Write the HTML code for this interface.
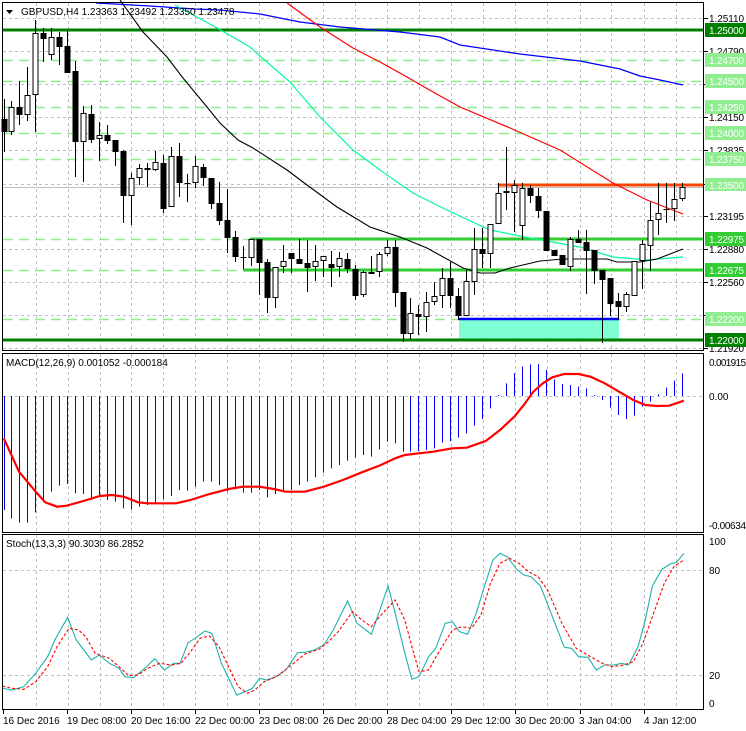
<!DOCTYPE html>
<html><head><meta charset="utf-8"><style>
html,body{margin:0;padding:0;background:#fff;width:746px;height:731px;overflow:hidden}
svg{display:block}
text{font-family:"Liberation Sans",sans-serif;font-size:10px}
</style></head><body>
<svg id="s" width="746" height="731" xmlns="http://www.w3.org/2000/svg">
<rect width="746" height="731" fill="#fff"/>
<g id="grid"></g>
<g id="lv"></g>
<g id="ma"></g>
<g id="cd"></g>
<g id="ind"></g>
<g fill="none" stroke="#000" stroke-width="1">
<rect x="2.5" y="2.5" width="701" height="348"/>
<rect x="2.5" y="353.5" width="701" height="179"/>
<rect x="2.5" y="534.5" width="701" height="175"/>
</g>
<g fill="#000">
<text x="709" y="22" textLength="35">1.25110</text>
<text x="709" y="55" textLength="35">1.24790</text>
<text x="709" y="88" textLength="35">1.24470</text>
<text x="709" y="121" textLength="35">1.24150</text>
<text x="709" y="154" textLength="35">1.23835</text>
<text x="709" y="220" textLength="35">1.23195</text>
<text x="709" y="253" textLength="35">1.22880</text>
<text x="709" y="286" textLength="35">1.22560</text>
<text x="709" y="319" textLength="35">1.22240</text>
<text x="709" y="352" textLength="35">1.21920</text>
</g>
<g>
<rect x="705" y="23" width="41" height="14" fill="#008000"/><text x="709" y="34" fill="#fff" textLength="35">1.25000</text>
<rect x="705" y="53" width="41" height="14" fill="#90EE90"/><text x="709" y="64" fill="#fff" textLength="35">1.24700</text>
<rect x="705" y="74" width="41" height="14" fill="#90EE90"/><text x="709" y="85" fill="#fff" textLength="35">1.24500</text>
<rect x="705" y="100" width="41" height="14" fill="#90EE90"/><text x="709" y="111" fill="#fff" textLength="35">1.24250</text>
<rect x="705" y="126" width="41" height="14" fill="#90EE90"/><text x="709" y="137" fill="#fff" textLength="35">1.24000</text>
<rect x="705" y="152" width="41" height="14" fill="#90EE90"/><text x="709" y="163" fill="#fff" textLength="35">1.23750</text>
<rect x="705" y="188" width="41" height="3" fill="#000"/>
<rect x="705" y="178" width="41" height="13" fill="#90EE90"/><text x="709" y="189" fill="#fff" textLength="35">1.23500</text>
<rect x="705" y="232" width="41" height="14" fill="#32CD32"/><text x="709" y="243" fill="#fff" textLength="35">1.22975</text>
<rect x="705" y="263" width="41" height="14" fill="#32CD32"/><text x="709" y="274" fill="#fff" textLength="35">1.22675</text>
<rect x="705" y="312" width="41" height="14" fill="#90EE90"/><text x="709" y="323" fill="#fff" textLength="35">1.22200</text>
<rect x="705" y="333" width="41" height="14" fill="#008000"/><text x="709" y="344" fill="#fff" textLength="35">1.22000</text>
<text x="709" y="366" textLength="37">0.001915</text>
<text x="709" y="400">0.00</text>
<text x="709" y="529" textLength="37">-0.00634</text>
<text x="709" y="545">100</text>
<text x="709" y="574">80</text>
<text x="709" y="679">20</text>
<text x="709" y="707">0</text>
</g>
<text x="21" y="15" fill="#000" font-size="10.5">GBPUSD,H4  1.23363 1.23492 1.23350 1.23478</text>
<path d="M6 10 L13 10 L9.5 14 Z" fill="#000"/>
<text x="6" y="366" fill="#000">MACD(12,26,9) 0.001052 -0.000184</text>
<text x="6" y="547" fill="#000">Stoch(13,3,3) 90.3030 86.2852</text>
<g fill="#000">
<text x="3" y="724">16 Dec 2016</text>
<text x="67" y="724">19 Dec 08:00</text>
<text x="131" y="724">20 Dec 16:00</text>
<text x="195" y="724">22 Dec 00:00</text>
<text x="259" y="724">23 Dec 08:00</text>
<text x="323" y="724">26 Dec 20:00</text>
<text x="387" y="724">28 Dec 04:00</text>
<text x="451" y="724">29 Dec 12:00</text>
<text x="515" y="724">30 Dec 20:00</text>
<text x="579" y="724">3 Jan 04:00</text>
<text x="644" y="724">4 Jan 12:00</text>
</g>
</svg>
<script>
(function(){
var NS="http://www.w3.org/2000/svg";
function el(p,t,a){var e=document.createElementNS(NS,t);for(var k in a)e.setAttribute(k,a[k]);document.getElementById(p).appendChild(e);return e;}
function pl(p,pts,st,w,extra){var d=pts.map(function(q,i){return (i?"L":"M")+q[0].toFixed(1)+" "+q[1].toFixed(1)}).join(" ");var a={d:d,fill:"none",stroke:st,"stroke-width":w};for(var k in extra)a[k]=extra[k];el(p,"path",a);}
var gx=[36,68,100,131,163,195,227,259,291,323,355,387,419,451,483,515,547,580,611,644,676];
gx.forEach(function(x){
 [[3,350],[354,532],[535,709]].forEach(function(r){el("grid","line",{x1:x+.5,y1:r[0],x2:x+.5,y2:r[1],stroke:"#c0c0c0","stroke-dasharray":"3,3"});});
});
[3,67,131,195,259,323,387,451,515,580,644].forEach(function(x){el("grid","line",{x1:x+.5,y1:710,x2:x+.5,y2:714,stroke:"#000"});});
[18,51,84,117,150,184,216,249,282,315,348].forEach(function(y){el("grid","line",{x1:3,y1:y+.5,x2:703,y2:y+.5,stroke:"#c0c0c0","stroke-dasharray":"3,3"});el("grid","line",{x1:704,y1:y+.5,x2:708,y2:y+.5,stroke:"#000"});});
[396,570,675].forEach(function(y){el("grid","line",{x1:3,y1:y+.5,x2:703,y2:y+.5,stroke:"#c0c0c0","stroke-dasharray":"3,3"});});
[60,81,107,133,159,239,270,319].forEach(function(y){el("lv","line",{x1:3,y1:y+.5,x2:703,y2:y+.5,stroke:"#90EE90","stroke-dasharray":"10,6","stroke-width":1.5});});
el("lv","line",{x1:3,y1:187.5,x2:703,y2:187.5,stroke:"#c0c0c0"});
el("lv","rect",{x:459,y:319,width:160,height:21,fill:"#7FFFD4"});
el("lv","line",{x1:459,y1:319,x2:619,y2:319,stroke:"#0000FF","stroke-width":2.5});
el("lv","line",{x1:3,y1:30,x2:704,y2:30,stroke:"#008000","stroke-width":3});
el("lv","line",{x1:3,y1:340,x2:704,y2:340,stroke:"#008000","stroke-width":3});
el("lv","line",{x1:250,y1:239,x2:704,y2:239,stroke:"#32CD32","stroke-width":3});
el("lv","line",{x1:243,y1:270,x2:704,y2:270,stroke:"#32CD32","stroke-width":3});
el("lv","line",{x1:499,y1:185,x2:704,y2:185,stroke:"#FF4500","stroke-width":3});
pl("ma",[[96,3],[150,6],[195,9],[220,10],[260,14],[300,22],[340,27],[376,30],[400,32],[440,37],[460,45],[520,54],[580,61],[620,69],[640,76],[660,80],[683,85]],"#0000FF",1.3);
pl("ma",[[287,3],[320,27],[353,48],[380,62],[407,77],[433,92],[460,107],[510,128],[560,150],[613,183],[647,200],[683,214]],"#FF0000",1.2);
pl("ma",[[175,5],[217,28],[250,47],[260,56],[290,82],[320,117],[353,150],[380,170],[413,193],[447,210],[490,230],[530,238],[580,247],[613,257],[647,260],[683,257]],"#00FA9A",1.2);
pl("ma",[[120,0],[143,32],[167,57],[183,78],[207,107],[220,123],[238,140],[253,148],[287,170],[307,185],[337,207],[370,227],[400,237],[427,248],[463,268],[480,273],[495,273],[510,268],[540,261],[563,259],[607,259],[617,262],[640,262],[657,259],[683,249]],"#000",1.1);
var C=[[119,132,99,152,1],[107,132,101,135,0],[107,115,81,125,1],[95,115,67,121,0],[33,95,20,132,0],[33,39,28,62,1],[37,55,28,60,0],[37,47,32,65,1],[46,73,31,73,1],[71,142,61,177,1],[113,142,106,182,0],[114,140,105,143,1],[135,139,122,161,0],[135,141,125,144,1],[140,152,140,166,1],[151,196,150,223,1],[178,196,173,225,0],[168,178,164,185,0],[168,170,163,187,1],[162,170,151,171,0],[163,209,155,213,1],[156,207,147,207,0],[156,183,143,197,1],[183,183,174,202,1],[166,183,156,188,0],[167,178,164,186,1],[178,204,178,209,1],[203,221,182,225,1],[220,238,189,253,1],[237,257,231,262,1],[257,257,246,269,1],[239,258,239,266,0],[239,263,239,295,1],[262,298,259,313,1],[267,298,267,308,0],[261,267,245,273,0],[253,259,253,273,1],[259,264,239,264,1],[263,268,240,292,1],[261,267,245,281,0],[256,261,256,277,0],[264,268,251,287,1],[258,267,252,277,0],[259,269,253,273,1],[269,296,265,300,1],[272,295,271,297,0],[272,274,256,274,1],[254,272,252,277,0],[247,254,240,256,0],[247,293,240,307,1],[292,334,292,342,1],[313,334,298,339,0],[314,317,305,335,1],[302,317,292,332,0],[296,302,282,305,0],[278,296,268,308,0],[278,296,262,308,1],[296,316,288,320,1],[281,316,270,316,0],[249,282,228,295,0],[249,254,228,268,1],[224,254,224,268,0],[193,224,183,224,0],[191,193,147,210,0],[185,193,180,232,0],[188,226,183,240,0],[188,196,185,203,1],[196,211,188,218,1],[211,251,211,251,1],[250,256,250,256,1],[255,265,255,265,1],[239,267,237,271,0],[239,243,230,243,1],[242,251,230,294,1],[250,271,250,284,1],[270,280,270,343,1],[278,304,278,316,1],[301,307,293,320,1],[294,307,292,312,0],[261,296,261,296,0],[244,261,240,289,0],[220,246,202,271,0],[213,220,183,235,0],[209,210,183,223,1],[199,209,183,221,0],[187,199,183,201,0]];
C.forEach(function(c,i){
 var x=Math.round(3.5+7.98*i)+.5;
 el("cd","line",{x1:x,y1:c[2],x2:x,y2:c[3],stroke:"#000","stroke-width":1});
 var h=Math.max(c[1]-c[0],1);
 if(c[4]) el("cd","rect",{x:x-3,y:c[0],width:6,height:h,fill:"#000"});
 else el("cd","rect",{x:x-2.5,y:c[0]+.5,width:5,height:Math.max(h-1,1),fill:"#fff",stroke:"#000","stroke-width":1});
});
var M=[510,535,548,548,517,480,455,437,432,460,462,480,468,480,485,505,508,500,495,490,477,468,450,452,440,425,425,435,455,448,458,458,450,472,462,455,450,435,425,412,398,385,375,362,352,345,350,328,305,310,335,335,333,330,325,308,303,293,280,257,237,205,165,130,100,80,73,72,90,118,132,135,140,145,165,180,203,225,237,227,200,185,163,143,122,100];
M.forEach(function(v,i){var x=Math.round(3.5+7.98*i)+.5;el("ind","line",{x1:x,y1:396,x2:x,y2:340+v/3,stroke:"#0000FF","stroke-width":1});});
var S=[[8,295],[40,395],[75,455],[95,487],[120,500],[140,497],[175,483],[210,468],[235,465],[260,470],[290,487],[310,490],[370,490],[400,480],[440,462],[480,447],[510,440],[545,440],[575,447],[600,455],[640,455],[680,440],[720,420],[760,397],[800,375],[830,355],[850,345],[880,340],[910,335],[950,325],[980,323],[1020,303],[1050,270],[1080,230],[1100,195],[1120,155],[1140,130],[1160,112],[1185,102],[1215,102],[1240,110],[1270,130],[1300,155],[1330,180],[1355,195],[1380,198],[1405,197],[1420,190],[1436,182]];
pl("ind",S.map(function(p){return [p[0]/2.1,340+p[1]/3]}),"#FF0000",2.2);
var K=[[5,475],[25,480],[50,470],[75,430],[100,380],[115,330],[142,262],[160,330],[192,390],[208,375],[230,400],[250,415],[262,440],[280,443],[300,420],[325,386],[345,420],[365,400],[378,400],[395,338],[410,325],[430,303],[445,310],[465,400],[497,495],[515,485],[530,475],[545,445],[560,450],[580,440],[600,420],[625,368],[640,367],[660,360],[680,345],[700,300],[730,213],[750,280],[780,313],[815,168],[830,250],[850,370],[865,448],[880,440],[900,380],[915,355],[935,280],[950,275],[965,305],[982,313],[1000,250],[1015,180],[1035,90],[1050,70],[1065,80],[1085,118],[1100,135],[1115,140],[1135,168],[1160,260],[1185,352],[1200,355],[1215,380],[1235,382],[1252,420],[1270,405],[1290,405],[1305,400],[1320,405],[1340,350],[1355,270],[1370,168],[1390,118],[1410,100],[1420,98],[1436,70]];
var D=[[5,468],[25,475],[50,478],[75,455],[100,410],[120,350],[145,295],[165,300],[180,320],[200,370],[230,385],[250,410],[270,437],[290,435],[310,415],[335,400],[360,405],[380,400],[400,365],[420,325],[440,318],[460,350],[480,410],[500,470],[520,490],[535,480],[555,455],[580,440],[610,408],[640,372],[670,358],[690,335],[710,305],[740,245],[760,270],[780,290],[800,255],[820,225],[830,210],[850,270],[865,350],[880,425],[900,420],[920,370],[950,300],[970,290],[990,295],[1010,255],[1030,160],[1050,100],[1070,85],[1090,100],[1110,125],[1130,140],[1150,180],[1180,280],[1210,355],[1240,380],[1265,400],[1285,410],[1310,405],[1330,395],[1350,340],[1370,260],[1395,160],[1415,110],[1436,90]];
pl("ind",K.map(function(p){return [p[0]/2.1,530+p[1]/3]}),"#20B2AA",1.1);
pl("ind",D.map(function(p){return [p[0]/2.1,530+p[1]/3]}),"#FF0000",1.1,{"stroke-dasharray":"3,2"});
})();
</script>
</body></html>
